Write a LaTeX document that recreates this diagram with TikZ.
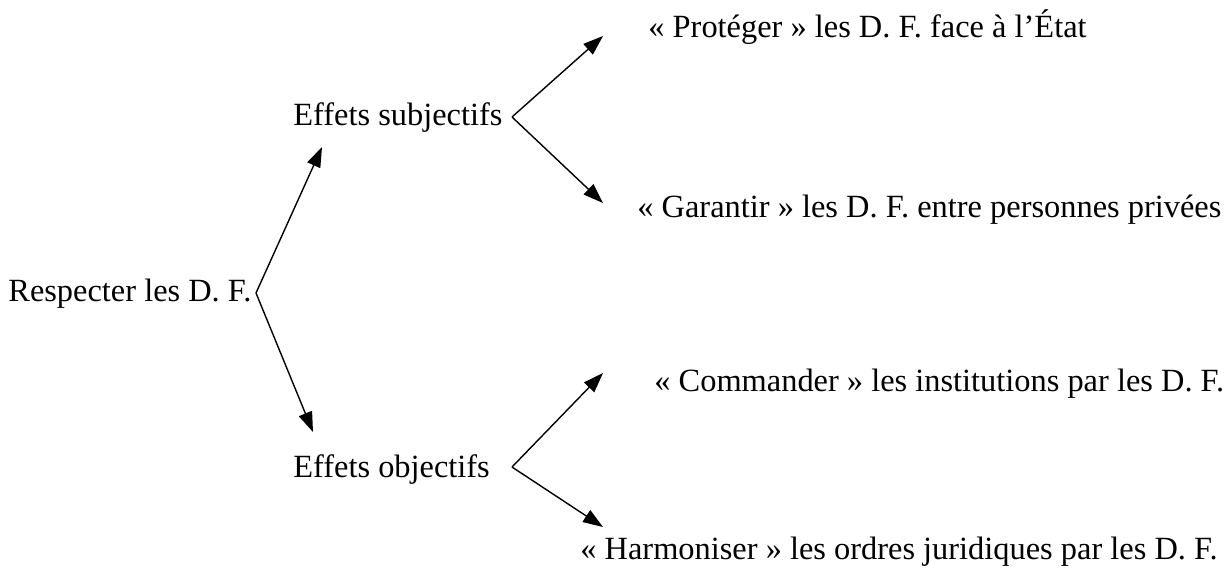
\documentclass[tikz,border=0pt]{standalone}
\usepackage{fontspec}
\setmainfont{Liberation Serif}
\usetikzlibrary{arrows.meta}
\begin{document}
\begin{tikzpicture}[x=0.5pt,y=-0.5pt,
  lbl/.style={anchor=base west,inner sep=0pt,font=\fontsize{16.2}{19}\selectfont},
  arr/.style={line width=0.7pt,-{Triangle[length=10pt,width=7pt]}}]
\useasboundingbox (0,0) rectangle (1230,567);
\node[lbl] (r) at (8,301) {Respecter les D. F.};
\node[lbl] (s) at (293,126) {Effets subjectifs};
\node[lbl] (o) at (293,477) {Effets objectifs};
\node[lbl] (p) at (648,38) {« Protéger » les D. F. face à l’État};
\node[lbl] (g) at (637,217) {« Garantir » les D. F. entre personnes privées};
\node[lbl] (c) at (654,391) {« Commander » les institutions par les D. F.};
\node[lbl] (h) at (580,559) {« Harmoniser » les ordres juridiques par les D. F.};
\coordinate (v0) at (256,293);
\coordinate (t1) at (322,147);
\coordinate (t2) at (313,432);
\coordinate (v1) at (512,117);
\coordinate (t3) at (603,36);
\coordinate (t4) at (603,203);
\coordinate (v2) at (512,467);
\coordinate (t5) at (603,373);
\coordinate (t6) at (603,527);
\draw[arr] (v0) -- (t1);
\draw[arr] (v0) -- (t2);
\draw[arr] (v1) -- (t3);
\draw[arr] (v1) -- (t4);
\draw[arr] (v2) -- (t5);
\draw[arr] (v2) -- (t6);
\end{tikzpicture}
\end{document}
